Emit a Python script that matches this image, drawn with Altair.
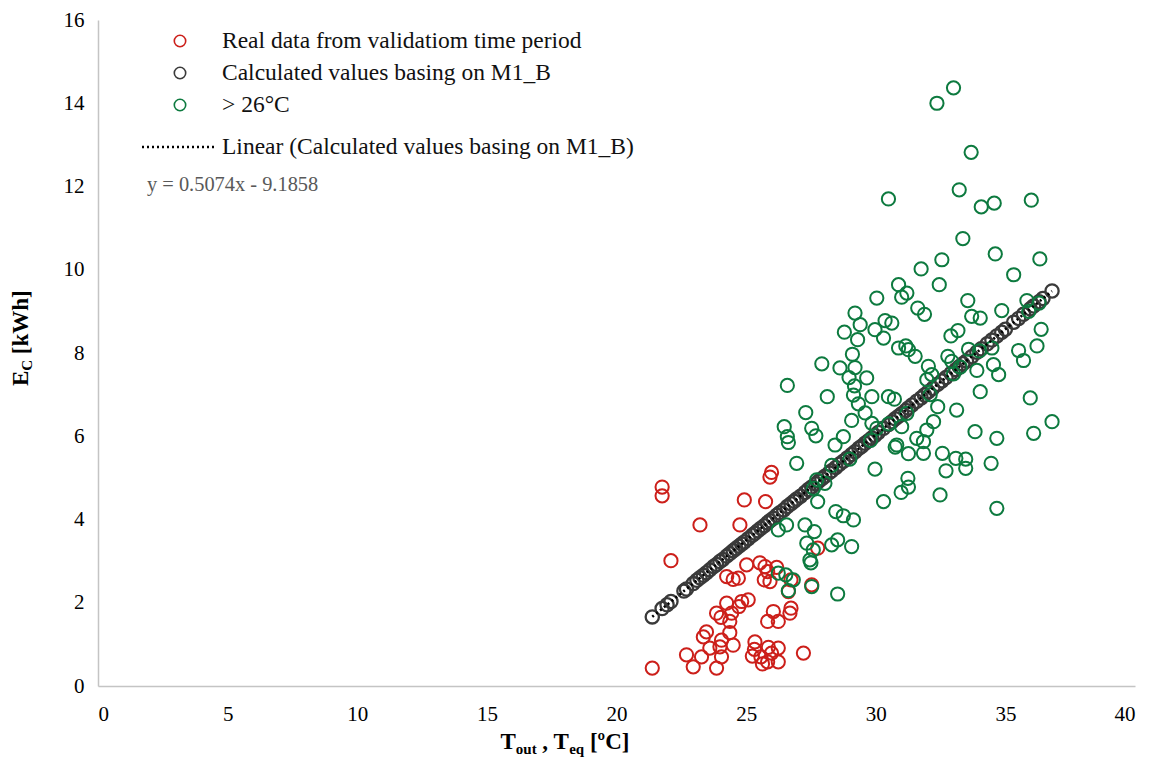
import altair as alt
import pandas as pd

# ---------------- data ----------------
red_x = [21.76, 21.76, 25.98, 25.92, 24.93, 25.75, 23.22, 24.76, 22.10, 27.76,
         25.02, 25.53, 25.73, 25.83, 26.18, 25.70, 25.92, 24.25, 24.50, 24.70,
         26.63, 26.73, 27.53, 23.86, 24.25, 24.83, 25.08, 24.72, 24.44, 24.03,
         24.37, 26.05, 25.83, 26.24, 26.69, 26.73, 23.47, 23.35, 24.37, 24.05,
         23.99, 24.50, 23.60, 23.28, 22.70, 22.96, 23.86, 24.05, 25.34, 25.32,
         25.24, 25.57, 25.86, 25.98, 26.24, 26.24, 25.83, 25.63, 27.21, 21.38]
red_y = [4.78, 4.57, 5.13, 5.02, 4.47, 4.43, 3.87, 3.87, 3.01, 3.31,
         2.91, 2.96, 2.87, 2.75, 2.85, 2.55, 2.51, 2.63, 2.56, 2.59,
         2.27, 2.55, 2.43, 1.75, 1.99, 2.03, 2.07, 1.91, 1.75, 1.65,
         1.55, 1.79, 1.55, 1.55, 1.75, 1.87, 1.30, 1.18, 1.28, 1.10,
         0.94, 0.98, 0.91, 0.70, 0.75, 0.46, 0.43, 0.70, 1.06, 0.88,
         0.72, 0.70, 0.93, 0.79, 0.91, 0.58, 0.58, 0.53, 0.79, 0.43]

green_x = [33.00, 32.36, 33.68, 30.49, 33.22, 34.07, 34.57, 36.00, 33.36, 34.61,
           32.55, 36.33, 31.75, 35.32, 30.88, 31.20, 31.00, 32.45, 30.04, 33.55,
           34.86, 31.62, 31.88, 33.70, 34.03, 35.83, 36.38, 30.36, 30.62, 29.97,
           30.30, 32.90, 33.17, 30.88, 31.16, 31.26, 31.52, 29.65, 32.78, 33.58,
           34.48, 35.51, 35.70, 36.22, 34.54, 34.74, 33.90, 32.93, 33.26, 32.03,
           32.16, 31.97, 34.03, 35.96, 30.49, 30.72, 29.85, 29.59, 32.39, 33.12,
           29.85, 30.04, 32.23, 31.97, 31.00, 36.80, 33.83, 34.67, 36.09, 31.58,
           31.84, 30.81, 30.75, 31.26, 31.84, 32.57, 33.09, 33.47, 33.47, 32.71,
           34.45, 29.97, 31.24, 31.26, 30.98, 30.30, 32.48, 34.67, 29.20, 28.79,
           29.30, 29.40, 29.10, 27.92, 28.62, 28.97, 29.20, 29.18, 26.59, 28.13,
           29.14, 29.33, 27.30, 29.07, 26.47, 26.59, 26.63, 27.53, 27.69, 28.75,
           28.43, 26.95, 27.72, 28.04, 27.76, 28.46, 28.75, 29.14, 26.24, 26.56,
           27.27, 27.63, 27.34, 27.59, 28.30, 28.53, 29.07, 27.46, 27.50, 26.53,
           26.82, 26.63, 27.53, 28.53, 26.24, 27.60, 28.30, 29.00, 29.80, 30.50,
           31.20, 32.10, 33.00, 34.00, 35.90, 36.30]
green_y = [14.37, 14.00, 12.82, 11.70, 11.92, 11.51, 11.60, 11.67, 10.75, 10.38,
           10.24, 10.26, 10.02, 9.88, 9.64, 9.44, 9.34, 9.64, 9.32, 9.26,
           9.02, 9.08, 8.93, 8.88, 8.84, 9.26, 8.57, 8.78, 8.72, 8.56,
           8.36, 8.41, 8.54, 8.12, 8.17, 8.08, 7.92, 7.40, 7.92, 8.09,
           8.12, 8.06, 7.82, 8.17, 7.72, 7.48, 7.58, 7.80, 7.66, 7.68,
           7.48, 7.36, 7.07, 6.92, 6.95, 6.89, 6.95, 6.56, 6.71, 6.63,
           6.31, 6.19, 6.35, 6.15, 6.23, 6.35, 6.11, 5.95, 6.07, 5.95,
           5.87, 5.79, 5.74, 5.58, 5.59, 5.59, 5.47, 5.45, 5.23, 5.17,
           5.35, 5.21, 4.99, 4.78, 4.65, 4.43, 4.59, 4.27, 8.96, 8.50,
           8.32, 8.68, 7.97, 7.74, 7.64, 7.41, 7.65, 7.21, 7.22, 6.95,
           6.99, 6.78, 6.57, 6.38, 6.23, 5.99, 5.85, 6.19, 6.01, 5.99,
           5.79, 5.35, 4.95, 4.87, 4.43, 4.19, 4.09, 3.99, 3.75, 3.87,
           3.87, 3.71, 3.43, 3.27, 3.39, 3.51, 3.35, 3.03, 2.96, 2.67,
           2.55, 2.29, 2.39, 2.21, 2.71, 4.75, 5.30, 5.45, 5.90, 6.30,
           6.55, 7.00, 7.50, 8.05, 9.00, 9.20]

black_x = [21.38, 21.76, 21.95, 22.10, 22.60, 22.70, 22.96, 23.10, 23.22, 23.35,
           23.47, 23.60, 23.75, 23.86, 23.99, 24.10, 24.25, 24.37, 24.50, 24.60,
           24.72, 24.83, 24.93, 25.08, 25.24, 25.34, 25.45, 25.57, 25.70, 25.83,
           25.92, 26.05, 26.18, 26.30, 26.45, 26.59, 26.73, 26.85, 26.95, 27.10,
           27.27, 27.40, 27.53, 27.69, 27.80, 27.92, 28.04, 28.20, 28.30, 28.46,
           28.60, 28.75, 28.90, 29.07, 29.20, 29.35, 29.46, 29.59, 29.72, 29.85,
           29.97, 30.10, 30.30, 30.49, 30.62, 30.75, 30.88, 31.00, 31.16, 31.26,
           31.40, 31.58, 31.75, 31.88, 32.03, 32.20, 32.39, 32.55, 32.71, 32.90,
           33.09, 33.22, 33.36, 33.50, 33.70, 33.90, 34.07, 34.30, 34.48, 34.67,
           34.86, 35.00, 35.32, 35.51, 35.70, 35.96, 36.09, 36.30, 36.45, 36.80]
black_y = [1.66, 1.86, 1.95, 2.03, 2.28, 2.33, 2.46, 2.54, 2.60, 2.66,
           2.72, 2.79, 2.87, 2.92, 2.99, 3.04, 3.12, 3.18, 3.25, 3.30,
           3.36, 3.41, 3.46, 3.54, 3.62, 3.67, 3.73, 3.79, 3.85, 3.92,
           3.97, 4.03, 4.10, 4.16, 4.23, 4.31, 4.38, 4.44, 4.49, 4.56,
           4.65, 4.72, 4.78, 4.86, 4.92, 4.98, 5.04, 5.12, 5.17, 5.25,
           5.33, 5.40, 5.48, 5.56, 5.63, 5.71, 5.76, 5.83, 5.89, 5.96,
           6.02, 6.09, 6.19, 6.28, 6.35, 6.42, 6.48, 6.54, 6.62, 6.68,
           6.75, 6.84, 6.92, 6.99, 7.07, 7.15, 7.25, 7.33, 7.41, 7.51,
           7.60, 7.67, 7.74, 7.81, 7.91, 8.02, 8.10, 8.22, 8.31, 8.41,
           8.50, 8.57, 8.74, 8.83, 8.93, 9.06, 9.13, 9.23, 9.31, 9.49]

legend_labels = ["Real data from validatiom time period",
                 "Calculated values basing on M1_B",
                 "> 26°C",
                 "Linear (Calculated values basing on M1_B)"]
equation_text = "y = 0.5074x - 9.1858"
x_ticks = [0, 5, 10, 15, 20, 25, 30, 35, 40]
y_ticks = [0, 2, 4, 6, 8, 10, 12, 14, 16]

# ---------------- styles ----------------
RED = "#cc1f1a"
BLACK = "#3a3a3a"
GREEN = "#0d7a3f"
FONT = "Liberation Serif"
W, H = 1037, 666

red_df = pd.DataFrame({"x": red_x, "y": red_y})
green_df = pd.DataFrame({"x": green_x, "y": green_y})
black_df = pd.DataFrame({"x": black_x, "y": black_y})

xs = alt.Scale(domain=[0, 40], nice=False, zero=False)
ys = alt.Scale(domain=[0, 16], nice=False, zero=False)
xaxis = alt.Axis(values=x_ticks, title=None, grid=False, ticks=False,
                 domainColor="#c4c4c4", domainWidth=1.5, labelFont=FONT,
                 labelFontSize=21, labelColor="#000000", labelPadding=17,
                 format="d")
yaxis = alt.Axis(values=y_ticks, title=None, grid=False, ticks=False,
                 domainColor="#c4c4c4", domainWidth=1.5, labelFont=FONT,
                 labelFontSize=21, labelColor="#000000", labelPadding=14,
                 format="d")


def enc():
    return dict(x=alt.X("x:Q", scale=xs, axis=xaxis),
                y=alt.Y("y:Q", scale=ys, axis=yaxis))


def pts(df, color, width=2):
    return alt.Chart(df).mark_point(shape="circle", filled=False, size=175,
                                    strokeWidth=width, color=color,
                                    opacity=1).encode(**enc())


red_layer = pts(red_df, RED)
black_layer = pts(black_df, BLACK, 2.3)
green_layer = pts(green_df, GREEN)
trend = alt.Chart(black_df).transform_regression("x", "y").mark_line(
    color="#000000", strokeWidth=2.6, strokeDash=[2, 3]).encode(**enc())

one = pd.DataFrame({"t": [""]})


def txt(s, px, py, size=23.5, bold=False, color="#111111", angle=0,
        baseline="middle"):
    kw = dict(text=s, font=FONT, fontSize=size, color=color, align="left",
              baseline=baseline)
    if bold:
        kw["fontWeight"] = "bold"
    if angle:
        kw["angle"] = angle
    return alt.Chart(one).mark_text(**kw).encode(x=alt.value(px), y=alt.value(py))


def sym(color, px, py):
    return alt.Chart(one).mark_point(shape="circle", filled=False, size=130,
                                     strokeWidth=1.6, color=color,
                                     opacity=1).encode(x=alt.value(px), y=alt.value(py))


legend = [
    sym(RED, 82, 21), txt(legend_labels[0], 124, 21),
    sym(BLACK, 82, 53), txt(legend_labels[1], 124, 53),
    sym(GREEN, 82, 85), txt(legend_labels[2], 124, 85),
    alt.Chart(one).mark_rule(color="#000000", strokeWidth=2.6,
                             strokeDash=[2, 3]).encode(
        x=alt.value(44), x2=alt.value(117), y=alt.value(127)),
    txt(legend_labels[3], 124, 127),
    txt(equation_text, 49, 165, size=20.4, color="#595959"),
]

# axis titles with subscripts
titles = [
    txt("T", 402.5, 729, size=23, bold=True, color="#000000", baseline="alphabetic"),
    txt("out", 417.8, 734, size=15, bold=True, color="#000000", baseline="alphabetic"),
    txt(", T", 444.35, 729, size=23, bold=True, color="#000000", baseline="alphabetic"),
    txt("eq", 471.15, 734, size=15, bold=True, color="#000000", baseline="alphabetic"),
    txt("[ºC]", 491.9, 729, size=23, bold=True, color="#000000", baseline="alphabetic"),
    txt("E", -70, 366, size=23, bold=True, color="#000000", angle=270, baseline="alphabetic"),
    txt("C", -66, 350.7, size=15, bold=True, color="#000000", angle=270, baseline="alphabetic"),
    txt("[kWh]", -70, 334.15, size=23, bold=True, color="#000000", angle=270, baseline="alphabetic"),
]

chart = alt.layer(red_layer, black_layer, green_layer, trend, *legend, *titles).properties(
    width=W, height=H,
    padding={"left": 90, "top": 12, "right": 10, "bottom": 73},
    autosize=alt.AutoSizeParams(type="none"),
).configure_view(stroke=None)

chart.save("out.html", embed_options={"renderer": "svg", "actions": False})
